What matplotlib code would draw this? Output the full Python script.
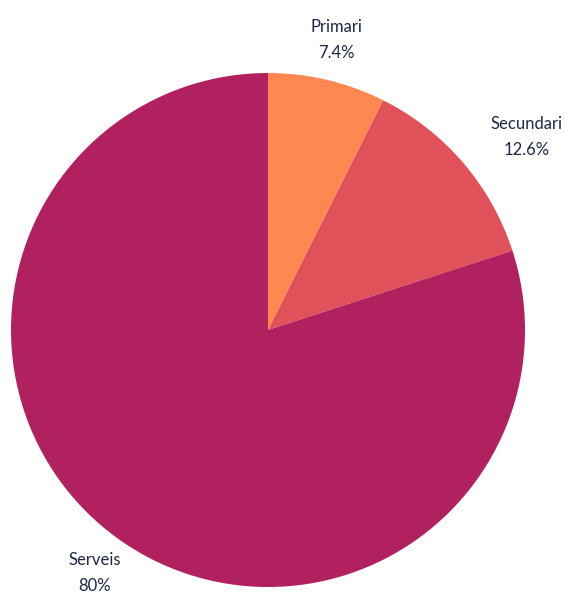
import numpy as np
import matplotlib
matplotlib.use("Agg")
import matplotlib.pyplot as plt

categories = ["Primari", "Secundari", "Serveis"]
values = [7.4, 12.6, 80.0]
pct_labels = ["7.4%", "12.6%", "80%"]
colors = ["#FF8850", "#E0515A", "#B12160"]

W, H = 565, 593
R = 257.0
cx, cy = 268.0, 330.0

fig = plt.figure(figsize=(W / 100, H / 100), dpi=100)
ax = fig.add_axes([0, 0, 1, 1])

wedges, _ = ax.pie(values, colors=colors, startangle=90, counterclock=False,
                   radius=1.0, center=(0, 0), frame=True,
                   wedgeprops=dict(linewidth=0))
ax.set_xlim(-cx / R, (W - cx) / R)
ax.set_ylim(-(H - cy) / R, cy / R)
ax.set_aspect("equal")
ax.axis("off")

label_r = [1.16, 1.255, 1.16]
angle_adj = [0.0, -4.0, 0.5]
txt_color = "#1e2747"
for w, name, pct, r, da in zip(wedges, categories, pct_labels, label_r, angle_adj):
    ang = np.deg2rad((w.theta1 + w.theta2) / 2 + da)
    x, y = r * np.cos(ang), r * np.sin(ang)
    ax.text(x, y, name + "\n" + pct, ha="center", va="center",
            fontsize=12, color=txt_color, linespacing=1.75,
            family=["Lato", "DejaVu Sans"])

fig.savefig("out.png", dpi=100)
